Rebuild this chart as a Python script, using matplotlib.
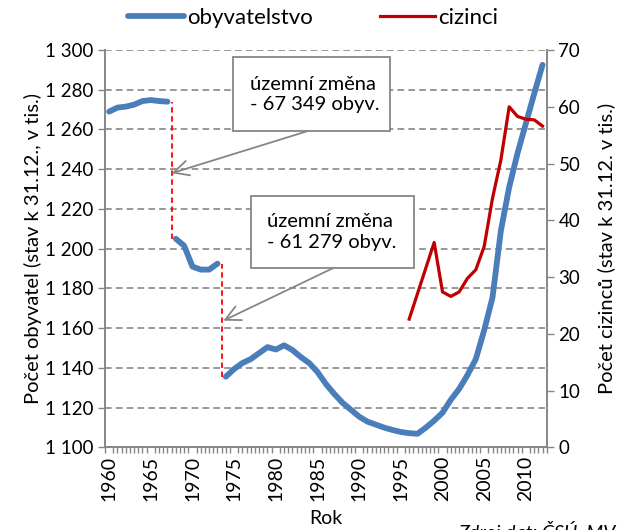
import matplotlib
matplotlib.use("Agg")
import matplotlib.pyplot as plt
from matplotlib.patches import Rectangle
import numpy as np

plt.rcParams['font.family'] = ['Lato', 'DejaVu Sans']

# obyvatelstvo (tis.), three pieces split by the territorial changes
years_a = [1960, 1961, 1962, 1963, 1964, 1965, 1966, 1967]
pop_a = [1269, 1271, 1271.5, 1272.5, 1274.3, 1274.8, 1274.3, 1274]
years_b = [1968, 1969, 1970, 1971, 1972, 1973]
pop_b = [1205, 1201.5, 1191, 1189.5, 1189.5, 1192.5]
years_c = list(range(1974, 2013))
pop_c = [1135.6, 1139.5, 1142.5, 1144.5, 1147.5, 1150.5, 1149.3, 1151.4, 1149,
         1145.5, 1142.5, 1138, 1132, 1127, 1122.5, 1119, 1115.5, 1113, 1111.5,
         1110, 1108.8, 1107.8, 1107.2, 1106.9, 1110, 1113.5, 1117.5, 1124,
         1129.5, 1136.5, 1144.5, 1159, 1175.5, 1209, 1231, 1248, 1263, 1278,
         1292.5]

# cizinci (tis.)
years_f = list(range(1996, 2013))
foreign = [22.6, 27.1, 31.6, 36.1, 27.4, 26.6, 27.4, 29.8, 31.3, 35.4, 43.9,
           50.6, 60.0, 58.3, 57.8, 57.7, 56.6]

blue = '#4a7ebb'
red = '#c00000'
grey = '#868686'
fs = 13.5

fig = plt.figure(figsize=(6.23, 5.30), dpi=100)
ax = fig.add_axes([0.1685, 0.1557, 0.709, 0.75])
ax2 = ax.twinx()

for xs, ys in [(years_a, pop_a), (years_b, pop_b), (years_c, pop_c)]:
    ax.plot(xs, ys, color=blue, lw=4.2, solid_capstyle='round', zorder=4)
ax2.plot(years_f, foreign, color=red, lw=2.3, zorder=4)

# red dashed jumps between the pieces
for left_y, left_v, right_v in [(years_a[-1], pop_a[-1], pop_b[0]),
                                (years_b[-1], pop_b[-1], pop_c[0])]:
    ax.vlines(left_y + 0.5, right_v, left_v, colors='#ff0000', lw=1.3,
              linestyles=(0, (3, 2)), zorder=3)

ax.set_xlim(1959.5, 2012.5)
ax.set_ylim(1100, 1300)
ax2.set_ylim(0, 70)

ax.set_yticks(np.arange(1100, 1301, 20))
ax.set_yticklabels(['{:,}'.format(v).replace(',', ' ') for v in range(1100, 1301, 20)])
ax2.set_yticks(np.arange(0, 71, 10))
ax.set_xticks(np.arange(1960, 2011, 5))
ax.set_xticks(np.arange(1959.5, 2012.6, 0.5), minor=True)
ax.tick_params(axis='x', which='major', length=0, labelrotation=90, pad=6)
ax.tick_params(axis='x', which='minor', length=4, color=grey, width=1)
ax.tick_params(axis='y', length=5, color=grey, width=1)
ax2.tick_params(axis='y', length=5, color=grey, width=1)
for a in (ax, ax2):
    a.tick_params(labelsize=fs, labelcolor='black')
    for s in a.spines.values():
        s.set_color(grey)
        s.set_linewidth(1.2)
    a.spines['top'].set_visible(False)
ax.tick_params(axis='x', labelsize=14)

ax.grid(axis='y', color=grey, lw=1.2, linestyle=(0, (4, 2.5)))
ax.set_axisbelow(True)

ax.set_ylabel('Počet obyvatel (stav k 31.12., v tis.)', fontsize=14.5, labelpad=2)
ax2.set_ylabel('Počet cizinců (stav k 31.12. v tis.)', fontsize=14.5, labelpad=12)
ax.set_xlabel('Rok', fontsize=14, labelpad=6)

# annotation boxes
ax.add_patch(Rectangle((1974.9, 1259.3), 18.8, 37.2, facecolor='white',
                       edgecolor=grey, lw=1.3, zorder=5, clip_on=False))
ax.text(1976.9, 1277.5, 'územní změna\n- 67 349 obyv.', fontsize=14.5,
        va='center', ha='left', linespacing=1.25, zorder=6)
ax.add_patch(Rectangle((1977.0, 1190.3), 19.6, 36.3, facecolor='white',
                       edgecolor=grey, lw=1.3, zorder=5, clip_on=False))
ax.text(1979.0, 1208.5, 'územní změna\n- 61 279 obyv.', fontsize=14.5,
        va='center', ha='left', linespacing=1.25, zorder=6)

arrow = dict(arrowstyle='->,head_length=0.9,head_width=0.45', color=grey,
             lw=1.3, shrinkA=0, shrinkB=0, mutation_scale=12)
ax.annotate('', xy=(1967.5, 1238), xytext=(1983.9, 1259.3), arrowprops=arrow, zorder=5)
ax.annotate('', xy=(1973.7, 1163.8), xytext=(1986.9, 1190.3), arrowprops=arrow, zorder=5)

ax.plot([], [], color=blue, lw=4.2, solid_capstyle='round', label='obyvatelstvo')
ax.plot([], [], color=red, lw=2.3, label='cizinci')
fig.legend(loc='center', bbox_to_anchor=(0.503, 0.966), ncol=2, frameon=False,
           fontsize=16, handlelength=2.5, handletextpad=0.15, columnspacing=3.0)

fig.text(458 / 623, 1 - 521 / 530, 'Zdroj dat: ČSÚ, MV', fontsize=14,
         style='italic', va='top', ha='left')

fig.savefig('out.png', dpi=100)
